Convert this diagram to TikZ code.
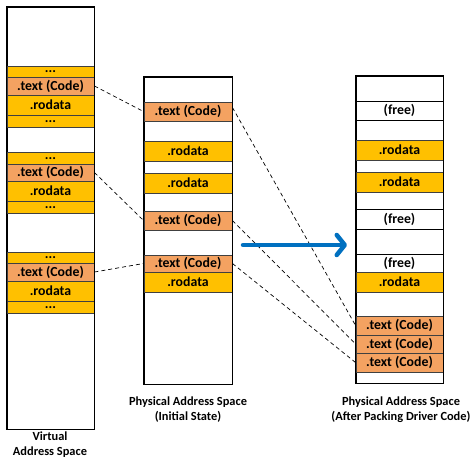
\documentclass[tikz,border=0pt]{standalone}
\usepackage{fontspec}
\setmainfont{Carlito}
\usetikzlibrary{arrows.meta}
\definecolor{codeorange}{RGB}{244,162,97}
\definecolor{rogold}{RGB}{255,192,0}
\definecolor{arrowblue}{RGB}{0,112,192}
\tikzset{
  row/.style={draw=black!75, line width=0.9pt, inner sep=0pt, font=\bfseries\fontsize{13.8}{15}\selectfont},
  code/.style={row, fill=codeorange},
  rodata/.style={row, fill=rogold},
  dots/.style={rodata, text height=2pt, text depth=0pt},
  free/.style={row, fill=white, draw=black},
  column/.style={draw=black, line width=0.9pt, inner sep=0pt, fill=white},
  link/.style={draw=black, line width=0.7pt, dash pattern=on 4pt off 3pt},
  label/.style={align=center, font=\bfseries\fontsize{12.4}{15}\selectfont}
}
\begin{document}
\begin{tikzpicture}[x=1pt, y=-1pt]
    \useasboundingbox (0,0) rectangle (471,461);
    \node[column, minimum width=87, minimum height=422] (vcol) at (50.5,218) {};
    \node[column, minimum width=88, minimum height=307] (pcol) at (188,230.5) {};
    \node[column, minimum width=87, minimum height=307] (qcol) at (399.5,229.5) {};

    \node[dots, minimum width=87, minimum height=11] (vd1) at (50.5,71.5) {...};
    \node[code, minimum width=87, minimum height=18] (vt1) at (50.5,86) {.text (Code)};
    \node[rodata, minimum width=87, minimum height=20] (vr1) at (50.5,105) {.rodata};
    \node[dots, minimum width=87, minimum height=12] (vd2) at (50.5,121) {...};
    \node[dots, minimum width=87, minimum height=12] (vd3) at (50.5,158) {...};
    \node[code, minimum width=87, minimum height=17] (vt2) at (50.5,172.5) {.text (Code)};
    \node[rodata, minimum width=87, minimum height=20] (vr2) at (50.5,191) {.rodata};
    \node[dots, minimum width=87, minimum height=12] (vd4) at (50.5,207) {...};
    \node[dots, minimum width=87, minimum height=11] (vd5) at (50.5,257.5) {...};
    \node[code, minimum width=87, minimum height=18] (vt3) at (50.5,272) {.text (Code)};
    \node[rodata, minimum width=87, minimum height=20] (vr3) at (50.5,291) {.rodata};
    \node[dots, minimum width=87, minimum height=12] (vd6) at (50.5,307) {...};

    \node[code, minimum width=88, minimum height=19] (pt1) at (188,111.5) {.text (Code)};
    \node[rodata, minimum width=88, minimum height=20] (pr1) at (188,151) {.rodata};
    \node[rodata, minimum width=88, minimum height=20] (pr2) at (188,183) {.rodata};
    \node[code, minimum width=88, minimum height=19] (pt2) at (188,220.5) {.text (Code)};
    \node[code, minimum width=88, minimum height=17] (pt3) at (188,263.5) {.text (Code)};
    \node[rodata, minimum width=88, minimum height=20] (pr3) at (188,282) {.rodata};

    \node[free, minimum width=87, minimum height=19] (qf1) at (399.5,110.5) {(free)};
    \node[rodata, minimum width=87, minimum height=20] (qr1) at (399.5,150) {.rodata};
    \node[rodata, minimum width=87, minimum height=20] (qr2) at (399.5,182) {.rodata};
    \node[free, minimum width=87, minimum height=20] (qf2) at (399.5,219) {(free)};
    \node[free, minimum width=87, minimum height=18] (qf3) at (399.5,263) {(free)};
    \node[rodata, minimum width=87, minimum height=20] (qr3) at (399.5,282) {.rodata};
    \node[code, minimum width=87, minimum height=19] (qt1) at (399.5,325.5) {.text (Code)};
    \node[code, minimum width=87, minimum height=18] (qt2) at (399.5,344) {.text (Code)};
    \node[code, minimum width=87, minimum height=19] (qt3) at (399.5,362.5) {.text (Code)};

    \draw[black, line width=0.9pt] (vcol.north west) rectangle (vcol.south east);
    \draw[black, line width=0.9pt] (pcol.north west) rectangle (pcol.south east);
    \draw[black, line width=0.9pt] (qcol.north west) rectangle (qcol.south east);

    \draw[link] (vt1.east) -- (pt1.west);
    \draw[link] (vt2.east) -- (pt2.west);
    \draw[link] (vt3.east) -- (pt3.west);
    \draw[link] ([yshift=4pt]pt1.east) -- (qt1.west);
    \draw[link] (pt2.east) -- (qt2.west);
    \draw[link] (pt3.east) -- (qt3.west);

    \coordinate (arrS) at (243,245);
    \coordinate (arrE) at (347,245);
    \draw[arrowblue, line width=4.5pt, line cap=round, -{Straight Barb[length=8pt, width=20pt, round]}] (arrS) -- (arrE);

    \node[label] (vlab) at (50,444.5) {Virtual\\Address Space};
    \node[label] (plab) at (188,409.5) {Physical Address Space\\(Initial State)};
    \node[label] (qlab) at (401,409.5) {Physical Address Space\\(After Packing Driver Code)};
\end{tikzpicture}
\end{document}
